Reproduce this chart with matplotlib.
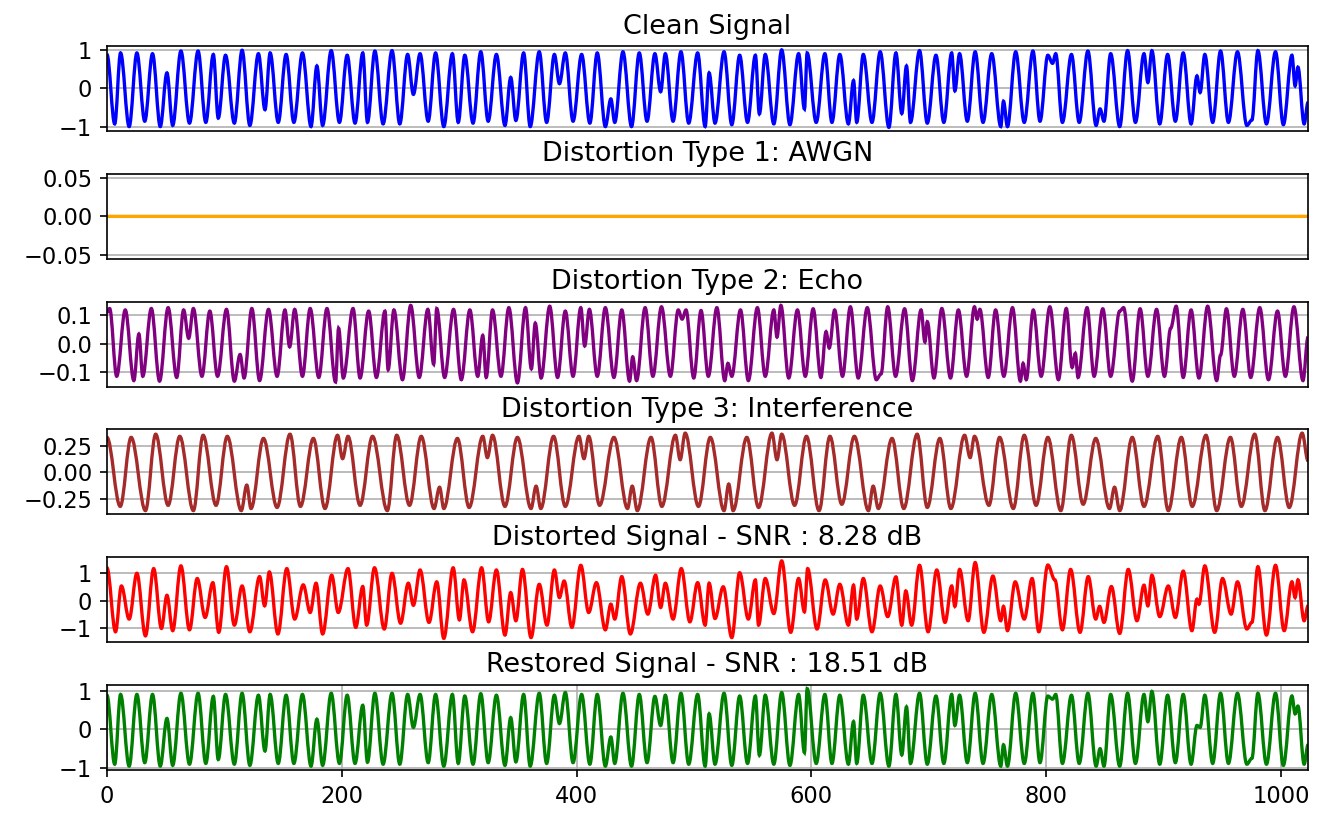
import matplotlib
matplotlib.use("Agg")
import matplotlib.pyplot as plt
from matplotlib.path import Path
from matplotlib.patches import PathPatch

# (sample index, value) turning points
clean = [
    (0, 0.88), (6.6, -0.93), (11.6, 0.92), (18.9, -1.0), (25.5, 0.92), (32.2, -0.86), (38.8, 0.9),
    (45.4, -1.0), (51.1, 0.4), (56.0, -0.97), (63.0, 0.97), (70.3, -0.91), (77.6, 0.97), (84.2, -0.89),
    (90.6, 0.88), (94.8, -0.78), (101.0, 0.86), (108.5, -0.91), (115.1, 0.99), (121.7, -0.97),
    (129.0, 0.9), (134.6, -0.56), (139.0, 0.92), (145.9, -0.89), (152.6, 0.88), (159.2, -0.89),
    (166.5, 0.92), (173.8, -1.0), (178.8, 0.58), (183.7, -0.97), (191.0, 0.98), (198.0, -0.89),
    (204.6, 0.86), (211.3, -0.91), (217.9, 0.92), (221.9, -0.89), (228.2, 0.97), (235.2, -0.93),
    (242.8, 0.98), (249.4, -0.93), (256.1, 0.88), (261.0, -0.16), (266.7, 0.9), (273.6, -0.86),
    (279.9, 0.92), (286.9, -1.0), (294.2, 0.9), (299.2, -0.89), (304.8, 0.86), (311.8, -0.91),
    (318.4, 0.95), (324.7, -0.86), (331.7, 0.88), (339.0, -0.97), (343.9, 0.28), (348.3, -0.84),
    (354.9, 0.92), (360.5, -1.0), (368.2, 0.95), (374.5, -0.89), (381.1, 0.88), (385.4, 0.12),
    (390.4, 0.92), (397.0, -0.86), (404.3, 0.88), (411.3, -0.91), (417.6, 0.92), (424.5, -1.0),
    (429.2, -0.28), (432.5, -0.89), (439.5, 0.95), (446.8, -1.0), (453.4, 0.92), (460.0, -0.86),
    (466.7, 0.9), (471.6, -0.09), (475.6, 0.9), (482.2, -0.86), (488.9, 0.95), (495.5, -0.91),
    (503.1, 0.92), (509.5, -1.0), (512.9, 0.4), (517.9, -0.91), (525.6, 0.95), (532.2, -0.95),
    (538.9, 0.86), (545.6, -0.89), (552.3, 0.86), (555.7, -0.67), (560.7, 0.88), (568.0, -0.93),
    (574.7, 1.0), (581.7, -0.95), (589.1, 0.9), (594.1, -0.54), (596.4, 0.92), (604.1, -0.89),
    (611.5, 0.9), (617.5, -0.89), (624.2, 0.88), (631.5, -0.93), (635.9, 0.2), (638.6, -0.89),
    (644.2, 0.88), (651.6, -0.89), (658.6, 0.95), (666.0, -1.02), (672.0, 0.92), (677.0, -0.66),
    (681.0, 0.58), (684.4, -0.89), (692.1, 0.98), (698.7, -0.91), (706.1, 0.86), (712.8, -0.89),
    (719.5, 0.92), (722.2, -0.07), (726.2, 0.9), (732.8, -0.86), (739.5, 0.95), (746.2, -0.89),
    (753.6, 0.9), (761.3, -1.0), (763.6, -0.34), (767.0, -1.0), (774.0, 0.95), (781.3, -0.89),
    (788.7, 0.97), (794.7, -0.86), (801.4, 0.86), (805.4, 0.65), (808.1, 0.9), (813.8, -0.89),
    (821.5, 0.88), (828.1, -0.89), (835.5, 0.97), (842.5, -0.97), (845.9, -0.54), (849.2, -0.86),
    (854.9, 0.9), (862.6, -1.0), (869.3, 0.98), (876.0, -0.89), (883.3, 0.9), (886.6, 0.15),
    (890.0, 0.98), (896.7, -0.93), (903.4, 0.88), (910.0, -0.86), (916.7, 0.92), (923.4, -0.93),
    (928.4, 0.32), (931.1, -0.11), (935.1, 0.88), (941.8, -0.89), (948.5, 0.97), (955.2, -0.89),
    (962.9, 0.95), (970.9, -0.97), (975.2, -0.83), (980.3, 0.98), (987.6, -0.93), (995.3, 0.95),
    (1002.0, -0.95), (1009.3, 0.86), (1012.0, 0.06), (1014.4, 0.55), (1019.7, -0.93), (1023, -0.37),
]

awgn = [(0, 0.0), (1023, 0.0)]

echo = [
    (0, 0.11), (2.3, 0.123), (8.3, -0.114), (15.6, 0.118), (22.9, -0.129), (27.2, 0.034), (30.5, -0.114),
    (37.8, 0.123), (44.8, -0.131), (52.1, 0.126), (59.4, -0.118), (65.3, 0.118), (69.6, 0.019),
    (73.6, 0.123), (80.9, -0.114), (87.6, 0.114), (94.2, -0.114), (101.8, 0.12), (108.5, -0.131),
    (113.4, -0.038), (116.8, -0.12), (123.4, 0.123), (130.0, -0.129), (137.6, 0.12), (144.9, -0.114),
    (151.6, 0.118), (155.6, -0.011), (159.9, 0.12), (166.5, -0.114), (173.1, 0.123), (180.4, -0.118),
    (187.4, 0.123), (194.7, -0.134), (197.3, 0.054), (201.3, -0.12), (209.6, 0.123), (215.6, -0.12),
    (222.9, 0.114), (229.5, -0.118), (236.8, 0.114), (239.5, -0.091), (244.4, 0.118), (251.7, -0.126),
    (258.7, 0.134), (266.0, -0.118), (273.3, 0.12), (278.3, -0.072), (280.9, 0.123), (287.6, -0.118),
    (295.2, 0.12), (301.8, -0.126), (309.1, 0.118), (315.8, -0.114), (320.1, 0.029), (323.0, -0.118),
    (328.4, 0.118), (335.6, -0.114), (342.3, 0.126), (349.6, -0.137), (356.5, 0.126), (361.5, -0.088),
    (364.8, 0.072), (369.8, -0.12), (377.1, 0.131), (383.8, -0.118), (390.4, 0.114), (397.0, -0.114),
    (403.6, 0.126), (406.9, -0.008), (410.9, 0.12), (417.6, -0.114), (424.5, 0.126), (431.8, -0.118),
    (438.5, 0.118), (445.1, -0.131), (447.8, -0.046), (451.1, -0.129), (458.4, 0.126), (465.0, -0.114),
    (472.3, 0.129), (479.9, -0.114), (486.6, 0.118), (489.9, 0.086), (493.2, 0.118), (499.8, -0.12),
    (506.0, 0.116), (512.2, -0.114), (519.5, 0.126), (526.2, -0.129), (528.9, -0.069), (532.2, -0.114),
    (539.6, 0.118), (546.3, -0.129), (554.0, 0.126), (560.7, -0.114), (568.0, 0.118), (570.7, 0.023),
    (574.0, 0.134), (580.7, -0.12), (588.1, 0.118), (594.8, -0.114), (601.5, 0.122), (608.1, -0.118),
    (612.5, 0.042), (615.2, -0.015), (619.8, 0.118), (626.5, -0.114), (633.2, 0.129), (639.9, -0.12),
    (647.6, 0.126), (655.3, -0.126), (659.3, -0.106), (665.0, 0.129), (671.7, -0.114), (679.4, 0.122),
    (686.0, -0.129), (693.4, 0.118), (696.7, 0.006), (698.7, 0.077), (704.4, -0.12), (711.1, 0.123),
    (718.5, -0.12), (725.2, 0.118), (732.2, -0.114), (738.9, 0.129), (741.2, 0.086), (743.5, 0.12),
    (750.6, -0.118), (756.9, 0.118), (763.9, -0.114), (771.3, 0.126), (778.0, -0.131), (780.3, -0.069),
    (783.0, -0.126), (789.0, 0.118), (795.7, -0.114), (803.1, 0.129), (810.4, -0.126), (817.1, 0.123),
    (822.1, -0.083), (824.8, -0.034), (827.1, -0.118), (834.8, 0.126), (840.8, -0.114), (848.2, 0.122),
    (854.9, -0.114), (862.6, 0.114), (865.9, 0.126), (873.3, -0.131), (880.0, 0.122), (886.6, -0.114),
    (894.0, 0.12), (900.7, -0.114), (906.0, 0.054), (910.7, 0.131), (916.7, -0.118), (923.4, 0.118),
    (930.1, -0.12), (937.5, 0.131), (945.2, -0.129), (948.5, -0.04), (953.5, 0.122), (960.2, -0.114),
    (967.5, 0.12), (974.2, -0.118), (981.9, 0.126), (989.3, -0.126), (997.0, 0.114), (1003.7, -0.114),
    (1011.0, 0.129), (1018.7, -0.129), (1023, 0.023),
]

interference = [
    (0, 0.33), (11.3, -0.32), (20.6, 0.33), (32.8, -0.36), (41.5, 0.36), (52.1, -0.31), (62.0, 0.34),
    (73.6, -0.36), (81.9, 0.35), (92.9, -0.31), (102.5, 0.34), (114.4, -0.36), (119.1, -0.12),
    (122.7, -0.34), (133.3, 0.32), (144.9, -0.33), (155.9, 0.36), (164.8, -0.32), (175.8, 0.32),
    (185.7, -0.34), (196.4, 0.35), (200.7, 0.13), (205.3, 0.34), (215.6, -0.31), (226.2, 0.34),
    (238.8, -0.36), (246.8, 0.35), (257.7, -0.31), (267.7, 0.34), (278.6, -0.34), (283.3, -0.14),
    (286.9, -0.34), (298.5, 0.32), (308.5, -0.33), (320.1, 0.34), (324.0, 0.14), (328.4, 0.35),
    (339.0, -0.32), (349.6, 0.33), (361.2, -0.34), (365.5, -0.13), (369.5, -0.34), (380.4, 0.34),
    (390.4, -0.32), (402.0, 0.34), (406.3, 0.13), (410.3, 0.34), (419.6, -0.31), (431.8, 0.33),
    (443.4, -0.34), (447.4, -0.13), (451.7, -0.36), (463.4, 0.33), (472.6, -0.32), (484.2, 0.35),
    (488.2, 0.12), (492.5, 0.37), (503.8, -0.32), (513.9, 0.33), (525.6, -0.36), (529.6, -0.11),
    (533.3, -0.36), (545.0, 0.33), (555.0, -0.33), (566.4, 0.37), (570.7, 0.12), (574.7, 0.36),
    (585.7, -0.31), (595.8, 0.34), (606.5, -0.36), (615.8, 0.34), (625.9, -0.30), (636.6, 0.34),
    (648.6, -0.36), (652.6, -0.13), (657.0, -0.34), (668.7, 0.32), (678.7, -0.34), (690.1, 0.36),
    (698.7, -0.33), (709.4, 0.32), (718.8, -0.34), (730.5, 0.35), (735.2, 0.14), (738.9, 0.34),
    (751.2, -0.31), (760.3, 0.33), (772.0, -0.34), (781.3, 0.35), (791.4, -0.31), (801.4, 0.33),
    (812.4, -0.36), (821.4, 0.35), (831.5, -0.30), (842.2, 0.32), (853.9, -0.34), (858.2, -0.14),
    (862.6, -0.36), (873.3, 0.33), (883.3, -0.32), (895.0, 0.34), (904.0, -0.36), (915.1, 0.33),
    (924.4, -0.32), (936.1, 0.35), (945.2, -0.36), (956.9, 0.33), (966.2, -0.32), (977.6, 0.36),
    (986.3, -0.36), (997.0, 0.33), (1007.0, -0.33), (1018.0, 0.37), (1023, 0.11),
]

distorted = [
    (0, 1.2), (7.3, -1.12), (12.3, 0.54), (18.9, -0.66), (25.5, 1.0), (32.8, -1.27), (39.8, 1.17),
    (46.4, -1.0), (51.1, 0.2), (56.0, -1.08), (63.0, 1.27), (70.3, -1.05), (76.9, 0.81), (83.6, -0.6),
    (90.2, 0.66), (95.2, -1.14), (101.8, 1.24), (108.5, -0.88), (115.1, 0.54), (121.7, -1.12),
    (130.0, 0.88), (134.3, -0.18), (138.3, 1.05), (145.6, -1.2), (153.2, 1.17), (159.9, -0.66),
    (167.2, 0.58), (173.1, -0.42), (178.1, 0.64), (183.7, -1.2), (191.4, 0.93), (197.0, -0.42),
    (205.3, 1.17), (211.9, -0.96), (217.9, 0.52), (221.2, -0.88), (227.9, 1.2), (236.2, -1.02),
    (242.8, 1.0), (250.1, -0.81), (256.7, 0.64), (261.0, -0.16), (266.7, 1.12), (274.3, -0.78),
    (280.9, 0.69), (286.9, -1.36), (294.9, 1.2), (300.2, -0.69), (304.1, 0.76), (311.4, -1.12),
    (319.1, 1.2), (325.1, -0.76), (331.7, 1.12), (339.0, -1.24), (343.9, 0.3), (348.3, -0.72),
    (353.9, 1.14), (361.2, -1.33), (368.2, 0.6), (374.8, -0.88), (381.1, 1.12), (385.4, 0.12),
    (389.4, 0.72), (396.0, -0.96), (403.6, 1.29), (410.3, -0.42), (416.9, 0.66), (424.5, -1.05),
    (429.2, -0.12), (432.5, -0.66), (438.5, 0.88), (445.8, -1.2), (454.4, 0.64), (460.7, -0.48),
    (467.3, 0.93), (471.6, -0.24), (475.6, 0.64), (482.2, -0.66), (489.2, 1.17), (496.5, -0.76),
    (503.1, 0.66), (509.5, -0.88), (512.9, 0.64), (517.9, -0.64), (524.9, 0.51), (532.2, -1.33),
    (538.9, 1.02), (546.3, -0.66), (552.3, 0.76), (555.0, -0.88), (560.7, 0.81), (568.0, -0.46),
    (574.7, 1.45), (582.4, -1.14), (589.1, 0.81), (594.1, -0.4), (596.8, 1.17), (604.8, -1.02),
    (611.8, 0.76), (618.5, -0.48), (624.2, 0.6), (631.5, -0.88), (635.9, 0.57), (638.6, -0.66),
    (644.2, 0.81), (651.6, -1.12), (658.6, 0.54), (665.0, -0.57), (672.0, 0.87), (677.0, -0.88),
    (680.4, 0.36), (685.4, -0.88), (692.1, 1.29), (699.4, -1.12), (706.8, 1.12), (713.8, -0.78),
    (719.5, 0.54), (722.2, -0.2), (726.2, 1.14), (733.5, -0.72), (739.5, 1.39), (746.9, -1.14),
    (754.6, 0.9), (761.3, -0.72), (763.6, -0.2), (767.0, -1.08), (773.6, 0.69), (781.3, -0.66),
    (788.0, 0.81), (793.7, -1.12), (801.4, 1.3), (807.4, 0.76), (813.8, -1.05), (820.8, 1.14),
    (828.8, -1.14), (835.8, 0.88), (842.2, -0.66), (845.5, -0.2), (849.2, -0.78), (855.5, 0.52),
    (862.6, -1.18), (869.9, 1.14), (877.3, -0.72), (883.3, 0.57), (886.6, -0.18), (890.0, 0.93),
    (896.7, -0.57), (904.0, 0.54), (910.0, -0.6), (916.7, 1.08), (924.1, -1.08), (928.4, 0.06),
    (930.1, -0.12), (935.1, 1.27), (943.5, -1.14), (950.2, 0.81), (957.5, -0.48), (962.9, 0.69),
    (970.9, -1.02), (975.2, -0.78), (980.3, 1.24), (987.6, -1.24), (995.3, 1.29), (1002.7, -1.08),
    (1009.3, 0.69), (1012.0, 0.12), (1014.4, 0.76), (1019.7, -0.72), (1023, -0.18),
]

restored = [
    (0, 0.88), (6.6, -0.9), (11.6, 0.9), (18.9, -0.95), (25.5, 0.9), (32.2, -0.86), (38.8, 0.9),
    (45.4, -0.95), (51.1, 0.28), (56.0, -0.93), (63.0, 0.93), (70.3, -0.9), (77.6, 0.93), (84.2, -0.88),
    (90.6, 0.85), (94.8, -0.78), (101.0, 0.9), (108.5, -0.9), (115.1, 0.93), (121.7, -0.93),
    (129.0, 0.88), (134.6, -0.56), (139.0, 0.9), (145.9, -0.88), (152.6, 0.88), (159.2, -0.88),
    (166.5, 0.9), (173.8, -0.95), (178.8, 0.26), (183.7, -0.93), (191.0, 0.93), (198.0, -0.88),
    (204.6, 0.88), (211.3, -0.88), (217.9, 0.62), (221.9, -0.85), (228.2, 0.93), (235.2, -0.9),
    (242.8, 0.93), (249.4, -0.9), (256.1, 0.9), (261.0, 0.05), (266.7, 0.9), (273.6, -0.86),
    (279.9, 0.9), (286.9, -0.95), (294.2, 0.9), (299.2, -0.88), (304.8, 0.86), (311.8, -0.9),
    (318.4, 0.92), (324.7, -0.86), (331.7, 0.88), (339.0, -0.93), (343.9, 0.3), (348.3, -0.84),
    (354.9, 0.9), (360.5, -0.95), (368.2, 0.93), (374.5, -0.88), (381.1, 0.88), (385.4, 0.15),
    (390.4, 0.95), (397.0, -0.86), (404.3, 0.9), (411.3, -0.9), (417.6, 0.9), (424.5, -0.95),
    (429.2, -0.2), (432.5, -0.88), (439.5, 0.93), (446.8, -0.95), (453.4, 0.9), (460.0, -0.86),
    (466.7, 0.85), (471.6, 0.1), (475.6, 0.88), (482.2, -0.86), (488.9, 0.93), (495.5, -0.9),
    (503.1, 0.9), (509.5, -0.95), (512.9, 0.4), (517.9, -0.9), (525.6, 0.93), (532.2, -0.93),
    (538.9, 0.86), (545.6, -0.88), (552.3, 0.86), (555.7, -0.67), (560.7, 0.88), (568.0, -0.9),
    (574.7, 0.95), (581.7, -0.93), (589.1, 0.9), (594.1, -0.6), (596.4, 1.05), (604.1, -0.88),
    (611.5, 0.9), (617.5, -0.88), (624.2, 0.88), (631.5, -0.9), (635.9, 0.2), (638.6, -0.88),
    (644.2, 0.88), (651.6, -0.88), (658.6, 0.93), (666.0, -0.95), (672.0, 0.9), (677.0, -0.66),
    (681.0, 0.58), (684.4, -0.88), (692.1, 0.93), (698.7, -0.9), (706.1, 0.86), (712.8, -0.88),
    (719.5, 0.9), (722.2, 0.1), (726.2, 0.88), (732.8, -0.86), (739.5, 0.93), (746.2, -0.88),
    (753.6, 0.9), (761.3, -0.95), (763.6, -0.4), (767.0, -0.95), (774.0, 0.93), (781.3, -0.88),
    (788.7, 0.93), (794.7, -0.86), (801.4, 0.86), (805.4, 0.78), (808.1, 0.9), (813.8, -0.88),
    (821.5, 0.88), (828.1, -0.88), (835.5, 0.93), (842.5, -0.95), (845.9, -0.5), (849.2, -0.95),
    (854.9, 0.9), (862.6, -0.95), (869.3, 0.93), (876.0, -0.88), (883.3, 0.9), (886.6, 0.2),
    (890.0, 0.98), (896.7, -0.9), (903.4, 0.88), (910.0, -0.86), (916.7, 0.9), (923.4, -0.9),
    (928.4, 0.1), (931.1, 0.05), (935.1, 0.88), (941.8, -0.88), (948.5, 0.93), (955.2, -0.88),
    (962.9, 0.93), (970.9, -0.9), (975.2, -0.75), (980.3, 0.93), (987.6, -0.9), (995.3, 0.93),
    (1002.0, -0.93), (1009.3, 0.86), (1012.0, 0.4), (1014.4, 0.6), (1019.7, -0.9), (1023, -0.4),
]

series = [clean, awgn, echo, interference, distorted, restored]
titles = [
    "Clean Signal",
    "Distortion Type 1: AWGN",
    "Distortion Type 2: Echo",
    "Distortion Type 3: Interference",
    "Distorted Signal - SNR : 8.28 dB",
    "Restored Signal - SNR : 18.51 dB",
]
colors = ["blue", "orange", "purple", "brown", "red", "green"]
n_samples = 1023


def wave_path(points, k=0.36):
    # smooth curve through the turning points (flat tangent at each one)
    verts = [points[0]]
    codes = [Path.MOVETO]
    for (t0, y0), (t1, y1) in zip(points[:-1], points[1:]):
        dt = t1 - t0
        verts += [(t0 + k * dt, y0), (t1 - k * dt, y1), (t1, y1)]
        codes += [Path.CURVE4] * 3
    return Path(verts, codes)


plt.rcParams["font.size"] = 10.8

fig, axes = plt.subplots(6, 1, figsize=(1327 / 150, 816 / 150), dpi=150)
fig.subplots_adjust(left=0.0806, right=0.9857, top=0.9436, bottom=0.0564, hspace=0.5)

for i, ax in enumerate(axes):
    wave = PathPatch(wave_path(series[i]), fill=False, edgecolor=colors[i], linewidth=1.6, zorder=2)
    ax.add_patch(wave)
    ax.autoscale_view()
    ax.set_title(titles[i])
    ax.set_xlim(0, n_samples)
    ax.grid(True)
    if i < len(axes) - 1:
        ax.set_xticks([])

fig.savefig("out.png", dpi=150)
